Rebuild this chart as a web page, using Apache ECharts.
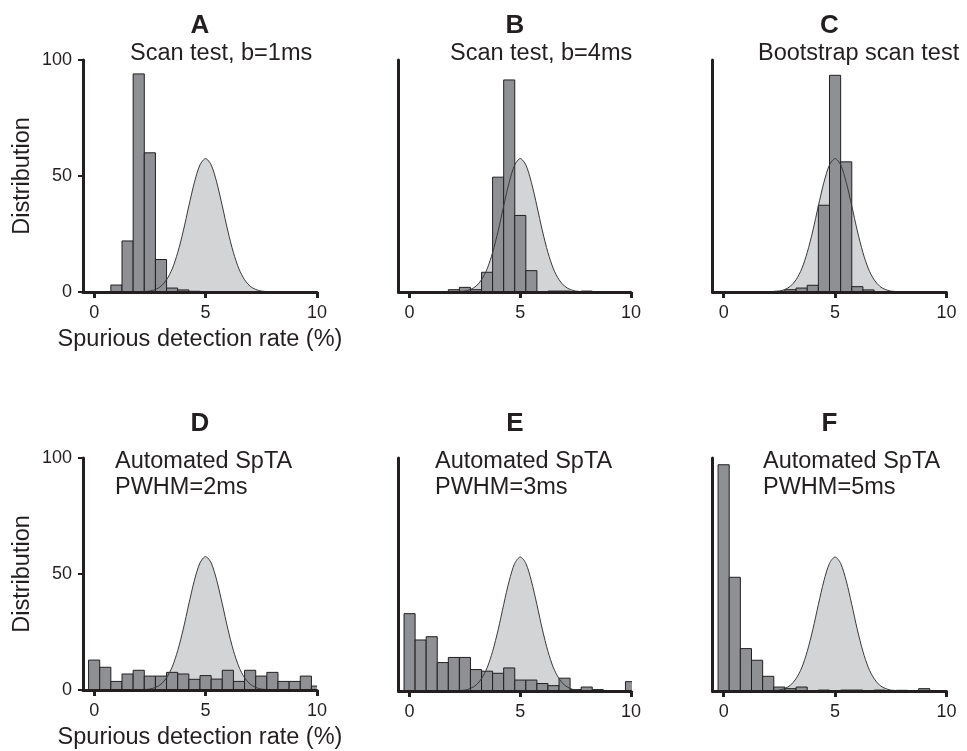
<!DOCTYPE html>
<html>
<head>
<meta charset="utf-8">
<script src="https://cdn.jsdelivr.net/npm/echarts@6.0.0/dist/echarts.min.js"></script>
<style>
html, body { margin: 0; padding: 0; background: #fff; }
#main { width: 967px; height: 751px; }
</style>
</head>
<body>
<div id="main"></div>
<script>
// histogram bins are 0.5 % wide, listed by their centre
var binsA = [1, 1.5, 2, 2.5, 3, 3.5, 4, 4.5];
var countsA = [3, 22, 94, 60, 14, 1.7, 0.9, 0.3];

var binsB = [2, 2.5, 3, 3.5, 4, 4.5, 5, 5.5, 6, 6.5, 7, 7.5, 8];
var countsB = [1, 2, 1, 8.5, 49.5, 91.4, 33, 9.2, 0, 0.4, 0.4, 0, 0.4];

var binsC = [2.5, 3, 3.5, 4, 4.5, 5, 5.5, 6, 6.5];
var countsC = [0.3, 1, 1.7, 2.9, 37.4, 93.4, 56.1, 2.3, 0.9];

var binsFull = [0, 0.5, 1, 1.5, 2, 2.5, 3, 3.5, 4, 4.5, 5, 5.5, 6, 6.5, 7, 7.5, 8, 8.5, 9, 9.5, 10];
var countsD = [12.9, 9.8, 3.7, 6.9, 8.5, 6.0, 6.0, 7.6, 6.9, 4.6, 6.2, 4.7, 8.5, 3.7, 8.5, 6.0, 7.6, 3.7, 3.7, 6.0, 1.7];
var countsE = [33.2, 21.9, 23.3, 12.2, 14.4, 14.4, 9.2, 8.5, 7.6, 9.9, 4.7, 4.7, 3.2, 2.3, 5.5, 0.6, 1.7, 0.6, 0.2, 0.2, 4.0];
var countsF = [97.1, 48.8, 18.2, 13.2, 6.3, 1.7, 1.0, 1.7, 0, 0.4, 0, 0.4, 0.4, 0, 0.4, 0, 0.3, 0, 1.0, 0, 0];

// expected distribution (light grey curve), same in every panel
var normalX = [1.75, 2, 2.25, 2.5, 2.75, 3, 3.25, 3.5, 3.75, 4, 4.25, 4.5, 4.75, 5, 5.25, 5.5, 5.75, 6, 6.25, 6.5, 6.75, 7, 7.25, 7.5, 7.75, 8, 8.25];
var normalY = [0, 0.05, 0.2, 0.4, 1.1, 2.5, 5.3, 9.9, 17.0, 26.3, 37.1, 47.3, 54.8, 57.5, 54.8, 47.3, 37.1, 26.3, 17.0, 9.9, 5.3, 2.5, 1.1, 0.4, 0.2, 0.05, 0];

var xTicks = [0, 5, 10];
var yTicks = [0, 50, 100];
var letters = ['A', 'B', 'C', 'D', 'E', 'F'];
var subtitles = ['Scan test, b=1ms', 'Scan test, b=4ms', 'Bootstrap scan test',
  'Automated SpTA\nPWHM=2ms', 'Automated SpTA\nPWHM=3ms', 'Automated SpTA\nPWHM=5ms'];
var xName = 'Spurious detection rate (%)';
var yName = 'Distribution';

var binWidth = 0.5;
var ink = '#231f20';
var fontFam = '"Liberation Sans", Arial, Helvetica, sans-serif';

var panels = [
  { bins: binsA, counts: countsA, left: 83, top: 60, width: 234, height: 232, first: true },
  { bins: binsB, counts: countsB, left: 398.5, top: 60, width: 232.5, height: 232 },
  { bins: binsC, counts: countsC, left: 712.5, top: 60, width: 234, height: 232 },
  { bins: binsFull, counts: countsD, left: 83, top: 458, width: 234, height: 233, first: true },
  { bins: binsFull, counts: countsE, left: 398.5, top: 458, width: 232.5, height: 233 },
  { bins: binsFull, counts: countsF, left: 712.5, top: 458, width: 234, height: 233 }
];

var normalData = normalX.map(function (x, i) { return [x, normalY[i]]; });

function renderBar(params, api) {
  var x = api.value(0), h = api.value(1);
  if (!h) return null;
  var p0 = api.coord([x - binWidth / 2, h]);
  var p1 = api.coord([x + binWidth / 2, 0]);
  return {
    type: 'rect',
    shape: { x: p0[0], y: p0[1], width: p1[0] - p0[0], height: p1[1] - p0[1] },
    style: { fill: '#8e9094', stroke: ink, lineWidth: 1 }
  };
}

var grid = [], xAxis = [], yAxis = [], series = [];
panels.forEach(function (p, i) {
  grid.push({ left: p.left, top: p.top, width: p.width, height: p.height });
  xAxis.push({
    type: 'value', gridIndex: i, min: -0.5, max: 10, z: 10,
    name: p.first ? xName : '', nameLocation: 'middle', nameGap: 36,
    nameTextStyle: { fontSize: 23.5, color: ink, fontFamily: fontFam },
    axisLine: { show: true, onZero: false, lineStyle: { color: ink, width: 3 } },
    axisTick: { show: true, customValues: xTicks, length: 6, lineStyle: { color: ink, width: 3 } },
    axisLabel: { customValues: xTicks, margin: 12, fontSize: 18, color: ink, fontFamily: fontFam },
    splitLine: { show: false }
  });
  yAxis.push({
    type: 'value', gridIndex: i, min: 0, max: 100, z: 10,
    name: p.first ? yName : '', nameLocation: 'middle', nameGap: 48,
    nameTextStyle: { fontSize: 23.5, color: ink, fontFamily: fontFam },
    axisLine: { show: true, onZero: false, lineStyle: { color: ink, width: 3 } },
    axisTick: { show: !!p.first, customValues: yTicks, length: 5, lineStyle: { color: ink, width: 2 } },
    axisLabel: { show: !!p.first, customValues: yTicks, margin: 11, fontSize: 18, color: ink, fontFamily: fontFam },
    splitLine: { show: false }
  });
  series.push({
    type: 'line', xAxisIndex: i, yAxisIndex: i, data: normalData, smooth: 0.3,
    showSymbol: false, silent: true, z: 1,
    lineStyle: { width: 0 }, areaStyle: { color: '#d3d4d6', opacity: 1 }
  });
  series.push({
    type: 'custom', xAxisIndex: i, yAxisIndex: i, clip: true, z: 2,
    renderItem: renderBar,
    data: p.bins.map(function (b, k) { return [b, p.counts[k]]; })
  });
  series.push({
    type: 'line', xAxisIndex: i, yAxisIndex: i, data: normalData, smooth: 0.3,
    showSymbol: false, silent: true, z: 3,
    lineStyle: { width: 1, color: '#3a3a3a' }
  });
});

var letterPos = [[200, 26], [515, 26], [829.5, 26], [200, 424], [515, 424], [829.5, 424]];
var subPos = [[130, 54], [450, 54], [758, 54], [115, 475], [435, 475], [763, 475]];
var graphic = [];
letters.forEach(function (l, i) {
  graphic.push({
    type: 'text', x: letterPos[i][0], y: letterPos[i][1],
    style: { text: l, font: 'bold 26px ' + fontFam, fill: ink,
      textAlign: 'center', align: 'center', textVerticalAlign: 'middle', verticalAlign: 'middle' }
  });
  graphic.push({
    type: 'text', x: subPos[i][0], y: subPos[i][1],
    style: { text: subtitles[i], font: '23.5px ' + fontFam, fill: ink, lineHeight: 26,
      textAlign: 'left', align: 'left', textVerticalAlign: 'middle', verticalAlign: 'middle' }
  });
});

var chart = echarts.init(document.getElementById('main'));
chart.setOption({
  animation: false,
  backgroundColor: '#fff',
  grid: grid,
  xAxis: xAxis,
  yAxis: yAxis,
  series: series,
  graphic: graphic
});
</script>
</body>
</html>
